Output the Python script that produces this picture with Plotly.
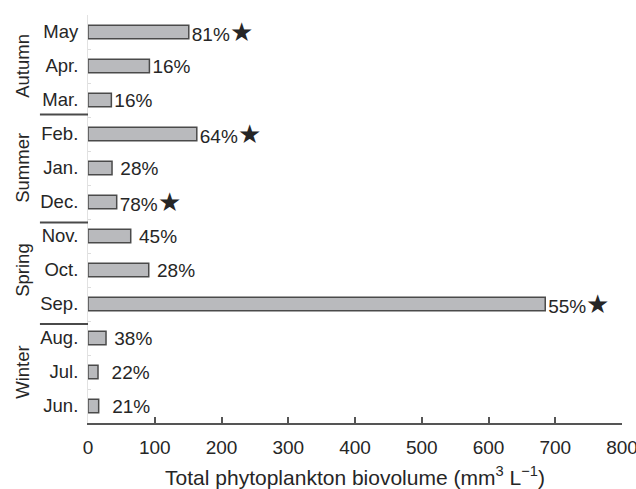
import plotly.graph_objects as go

# ---- data (bottom to top) ----
months = ["Jun.", "Jul.", "Aug.", "Sep.", "Oct.", "Nov.", "Dec.", "Jan.", "Feb.", "Mar.", "Apr.", "May"]
biovolume = [16, 15, 27, 685, 91, 64, 43, 36, 163, 35, 92, 151]
percent_labels = ["21%", "22%", "38%", "55%", "28%", "45%", "78%", "28%", "64%", "16%", "16%", "81%"]
label_lead_spaces = [2, 2, 1, 0, 1, 1, 0, 1, 0, 0, 0, 0]
significant = [False, False, False, True, False, False, True, False, True, False, False, True]
seasons = ["Winter", "Spring", "Summer", "Autumn"]
season_mid_month = ["Jul.", "Oct.", "Jan.", "Apr."]
x_tick_values = [0, 100, 200, 300, 400, 500, 600, 700, 800]
x_title = "Total phytoplankton biovolume (mm<sup>3</sup> L<sup>\u22121</sup>)"

FONT = "Liberation Sans, Arial, Helvetica, sans-serif"
NB = "\u00a0"
TXT = "#262626"

texts = []
for lab, sp, sig in zip(percent_labels, label_lead_spaces, significant):
    t = NB * sp + lab
    if sig:
        t += "<span style='font-size:26px'>\u2605</span>"
    texts.append(t)

fig = go.Figure()
fig.add_trace(go.Bar(
    y=months,
    x=biovolume,
    orientation="h",
    width=0.4,
    marker=dict(color="#b9babd", line=dict(color="#4a4a4a", width=1.5)),
    text=texts,
    textposition="outside",
    textfont=dict(family=FONT, size=19, color=TXT),
    cliponaxis=False,
    constraintext="none",
    hoverinfo="skip",
))

# season group labels
for s, m in zip(seasons, season_mid_month):
    fig.add_annotation(
        text=s, x=-0.124, xref="paper", xanchor="center", y=m, yref="y", yanchor="middle",
        textangle=-90, showarrow=False,
        font=dict(family=FONT, size=18.5, color=TXT),
    )

# season separators
for yv in [8.57, 5.40, 2.41]:
    fig.add_shape(type="line", xref="paper", x0=-0.09, x1=0.0, yref="y", y0=yv, y1=yv,
                  line=dict(color="#4a4a4a", width=2))

fig.update_layout(
    width=636, height=489,
    margin=dict(l=88, r=14, t=15, b=66),
    plot_bgcolor="white", paper_bgcolor="white",
    showlegend=False,
    font=dict(family=FONT, size=18, color=TXT),
    xaxis=dict(
        range=[0, 800], tickvals=x_tick_values,
        ticks="inside", ticklen=6, tickwidth=1.5, tickcolor="#555555",
        showline=True, linecolor="#555555", linewidth=1.5,
        showgrid=False, zeroline=False,
        tickfont=dict(family=FONT, size=19, color=TXT),
        ticklabelstandoff=6,
        ticklabeloverflow="allow",
        title=dict(text=x_title, font=dict(family=FONT, size=21, color=TXT), standoff=14),
        automargin=False,
    ),
    yaxis=dict(
        type="category", categoryorder="array", categoryarray=months,
        range=[-0.5, 11.5],
        showline=True, linecolor="#e2e2e2", linewidth=1,
        ticks="inside", tickson="boundaries", ticklen=3, tickcolor="#dddddd",
        showgrid=False, zeroline=False,
        tickfont=dict(family=FONT, size=18.5, color=TXT),
        ticklabelstandoff=5,
        automargin=False,
    ),
)

fig.write_html("out.html", config={"displayModeBar": False},
               post_script="document.body.style.margin='0';")
